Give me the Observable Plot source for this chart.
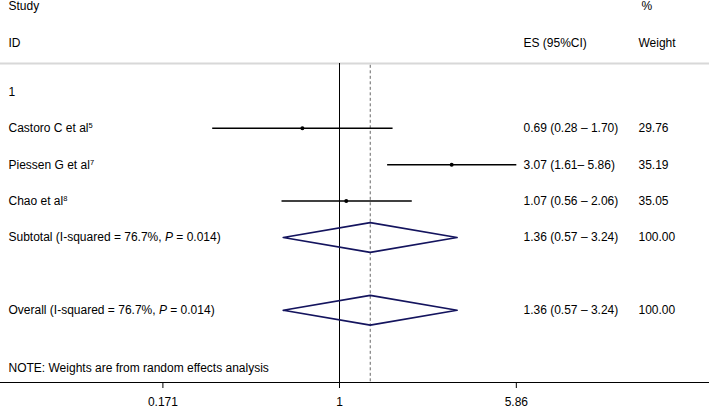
<!DOCTYPE html>
<html>
<head>
<meta charset="utf-8">
<script src="https://cdn.jsdelivr.net/npm/d3@7"></script>
<script src="https://cdn.jsdelivr.net/npm/@observablehq/plot@0.6"></script>
<style>
  html, body { margin: 0; padding: 0; background: #fff; }
  #chart svg { display: block; }
</style>
</head>
<body>
<div id="chart"></div>
<script>
// ---- data ----
const studies = ["Castoro C et al", "Piessen G et al", "Chao et al"];
const refs = ["5", "7", "8"];
const es = [0.69, 3.07, 1.07];
const lo = [0.28, 1.61, 0.56];
const hi = [1.70, 5.86, 2.06];
const ciLabels = ["0.69 (0.28 \u2013 1.70)", "3.07 (1.61\u2013 5.86)", "1.07 (0.56 \u2013 2.06)"];
const weights = ["29.76", "35.19", "35.05"];

const pooledLabels = ["Subtotal (I-squared = 76.7%, P = 0.014)", "Overall (I-squared = 76.7%, P = 0.014)"];
const pooledEs = [1.36, 1.36];
const pooledLo = [0.57, 0.57];
const pooledHi = [3.24, 3.24];
const pooledCi = ["1.36 (0.57 \u2013 3.24)", "1.36 (0.57 \u2013 3.24)"];
const pooledWeights = ["100.00", "100.00"];

const groupLabel = "1";
const noteText = "NOTE: Weights are from random effects analysis";
const tickValues = [0.171, 1, 5.86];
const tickLabels = ["0.171", "1", "5.86"];
const overallEs = 1.36;

// ---- layout (row indices) ----
const headRow1 = -0.346, headRow2 = 0.67, sepRow = 1.22, groupRow = 2;
const studyRows = [3, 4, 5];
const pooledRows = [6, 8];
const noteRow = 9.6;
const bottomRow = 9.984;
const tickLen = 0.165;
const dH = 0.41;

const W = 709, H = 407;
const colES = 523, colW = 638, colPct = 641, colL = 8;

const studyData = studies.map((s, i) => ({
  label: s + "^" + refs[i], es: es[i], lo: lo[i], hi: hi[i],
  ci: ciLabels[i], w: weights[i], row: studyRows[i]
}));
const pooledData = pooledLabels.map((s, i) => ({
  label: s, es: pooledEs[i], lo: pooledLo[i], hi: pooledHi[i],
  ci: pooledCi[i], w: pooledWeights[i], row: pooledRows[i]
}));
const diamondPts = pooledData.flatMap((d, i) => [
  {x: d.lo, y: d.row, z: i}, {x: d.es, y: d.row - dH, z: i},
  {x: d.hi, y: d.row, z: i}, {x: d.es, y: d.row + dH, z: i},
  {x: d.lo, y: d.row, z: i}
]);
const leftTexts = [
  {t: "Study", row: headRow1}, {t: "ID", row: headRow2}, {t: groupLabel, row: groupRow},
  ...studyData.map(d => ({t: d.label, row: d.row})),
  ...pooledData.map(d => ({t: d.label, row: d.row})),
  {t: noteText, row: noteRow}
];
const esTexts = [{t: "ES (95%CI)", row: headRow2}, ...studyData.map(d => ({t: d.ci, row: d.row})), ...pooledData.map(d => ({t: d.ci, row: d.row}))];
const wTexts = [{t: "Weight", row: headRow2}, ...studyData.map(d => ({t: d.w, row: d.row})), ...pooledData.map(d => ({t: d.w, row: d.row}))];
const tickData = tickValues.map((v, i) => ({v, label: tickLabels[i]}));

const font = "'Liberation Sans', Arial, Helvetica, sans-serif";

const chart = Plot.plot({
  width: W, height: H,
  marginLeft: 0, marginRight: 0, marginTop: 0, marginBottom: 25,
  style: {fontFamily: font, fontSize: "12px", color: "#000", background: "#fff", overflow: "visible"},
  x: {type: "log", domain: [Math.exp(-3.39), Math.exp(3.70)], range: [0, W], axis: null},
  y: {domain: [-0.511, bottomRow], range: [0, 382], axis: null},
  marks: [
    Plot.ruleY([sepRow], {stroke: "#d8d8d8", strokeWidth: 2}),
    Plot.ruleX([1], {y1: sepRow, y2: bottomRow, stroke: "#000", strokeWidth: 1}),
    Plot.ruleX([overallEs], {y1: sepRow + 0.05, y2: bottomRow, stroke: "#666", strokeWidth: 1, strokeDasharray: "3,2.5"}),
    Plot.link(studyData, {x1: "lo", x2: "hi", y1: "row", y2: "row", stroke: "#000", strokeWidth: 1.5}),
    Plot.dot(studyData, {x: "es", y: "row", r: 2, fill: "#000", stroke: null}),
    Plot.line(diamondPts, {x: "x", y: "y", z: "z", stroke: "#14145e", strokeWidth: 1.7, curve: "linear"}),
    Plot.text(leftTexts, {text: "t", y: "row", frameAnchor: "left", dx: colL, textAnchor: "start", fill: "#000"}),
    Plot.text(esTexts, {text: "t", y: "row", frameAnchor: "left", dx: colES, textAnchor: "start", fill: "#000"}),
    Plot.text(wTexts, {text: "t", y: "row", frameAnchor: "left", dx: colW, textAnchor: "start", fill: "#000"}),
    Plot.text(["%"], {text: d => d, y: () => headRow1, frameAnchor: "left", dx: colPct, textAnchor: "start", fill: "#000"}),
    Plot.frame({anchor: "bottom", stroke: "#000"}),
    Plot.ruleX(tickData, {x: "v", y1: bottomRow, y2: bottomRow + tickLen, stroke: "#000"}),
    Plot.text(tickData, {x: "v", text: "label", frameAnchor: "bottom", dy: 23, lineAnchor: "bottom", fill: "#000"})
  ]
});

// rich text: superscripts and italic P
d3.select(chart).selectAll("text").each(function () {
  const el = this;
  if (el.querySelector("tspan")) return;
  const s = el.textContent;
  if (s.includes("^")) {
    const [main, sup] = s.split("^");
    el.textContent = "";
    d3.select(el).append("tspan").text(main);
    d3.select(el).append("tspan").attr("font-size", "7.5px").attr("dy", "-4").text(sup);
  } else if (s.includes("P = ")) {
    const i = s.indexOf("P = ");
    el.textContent = "";
    d3.select(el).append("tspan").text(s.slice(0, i));
    d3.select(el).append("tspan").attr("font-style", "italic").text("P");
    d3.select(el).append("tspan").text(s.slice(i + 1));
  }
});

document.getElementById("chart").appendChild(chart);
</script>
</body>
</html>
